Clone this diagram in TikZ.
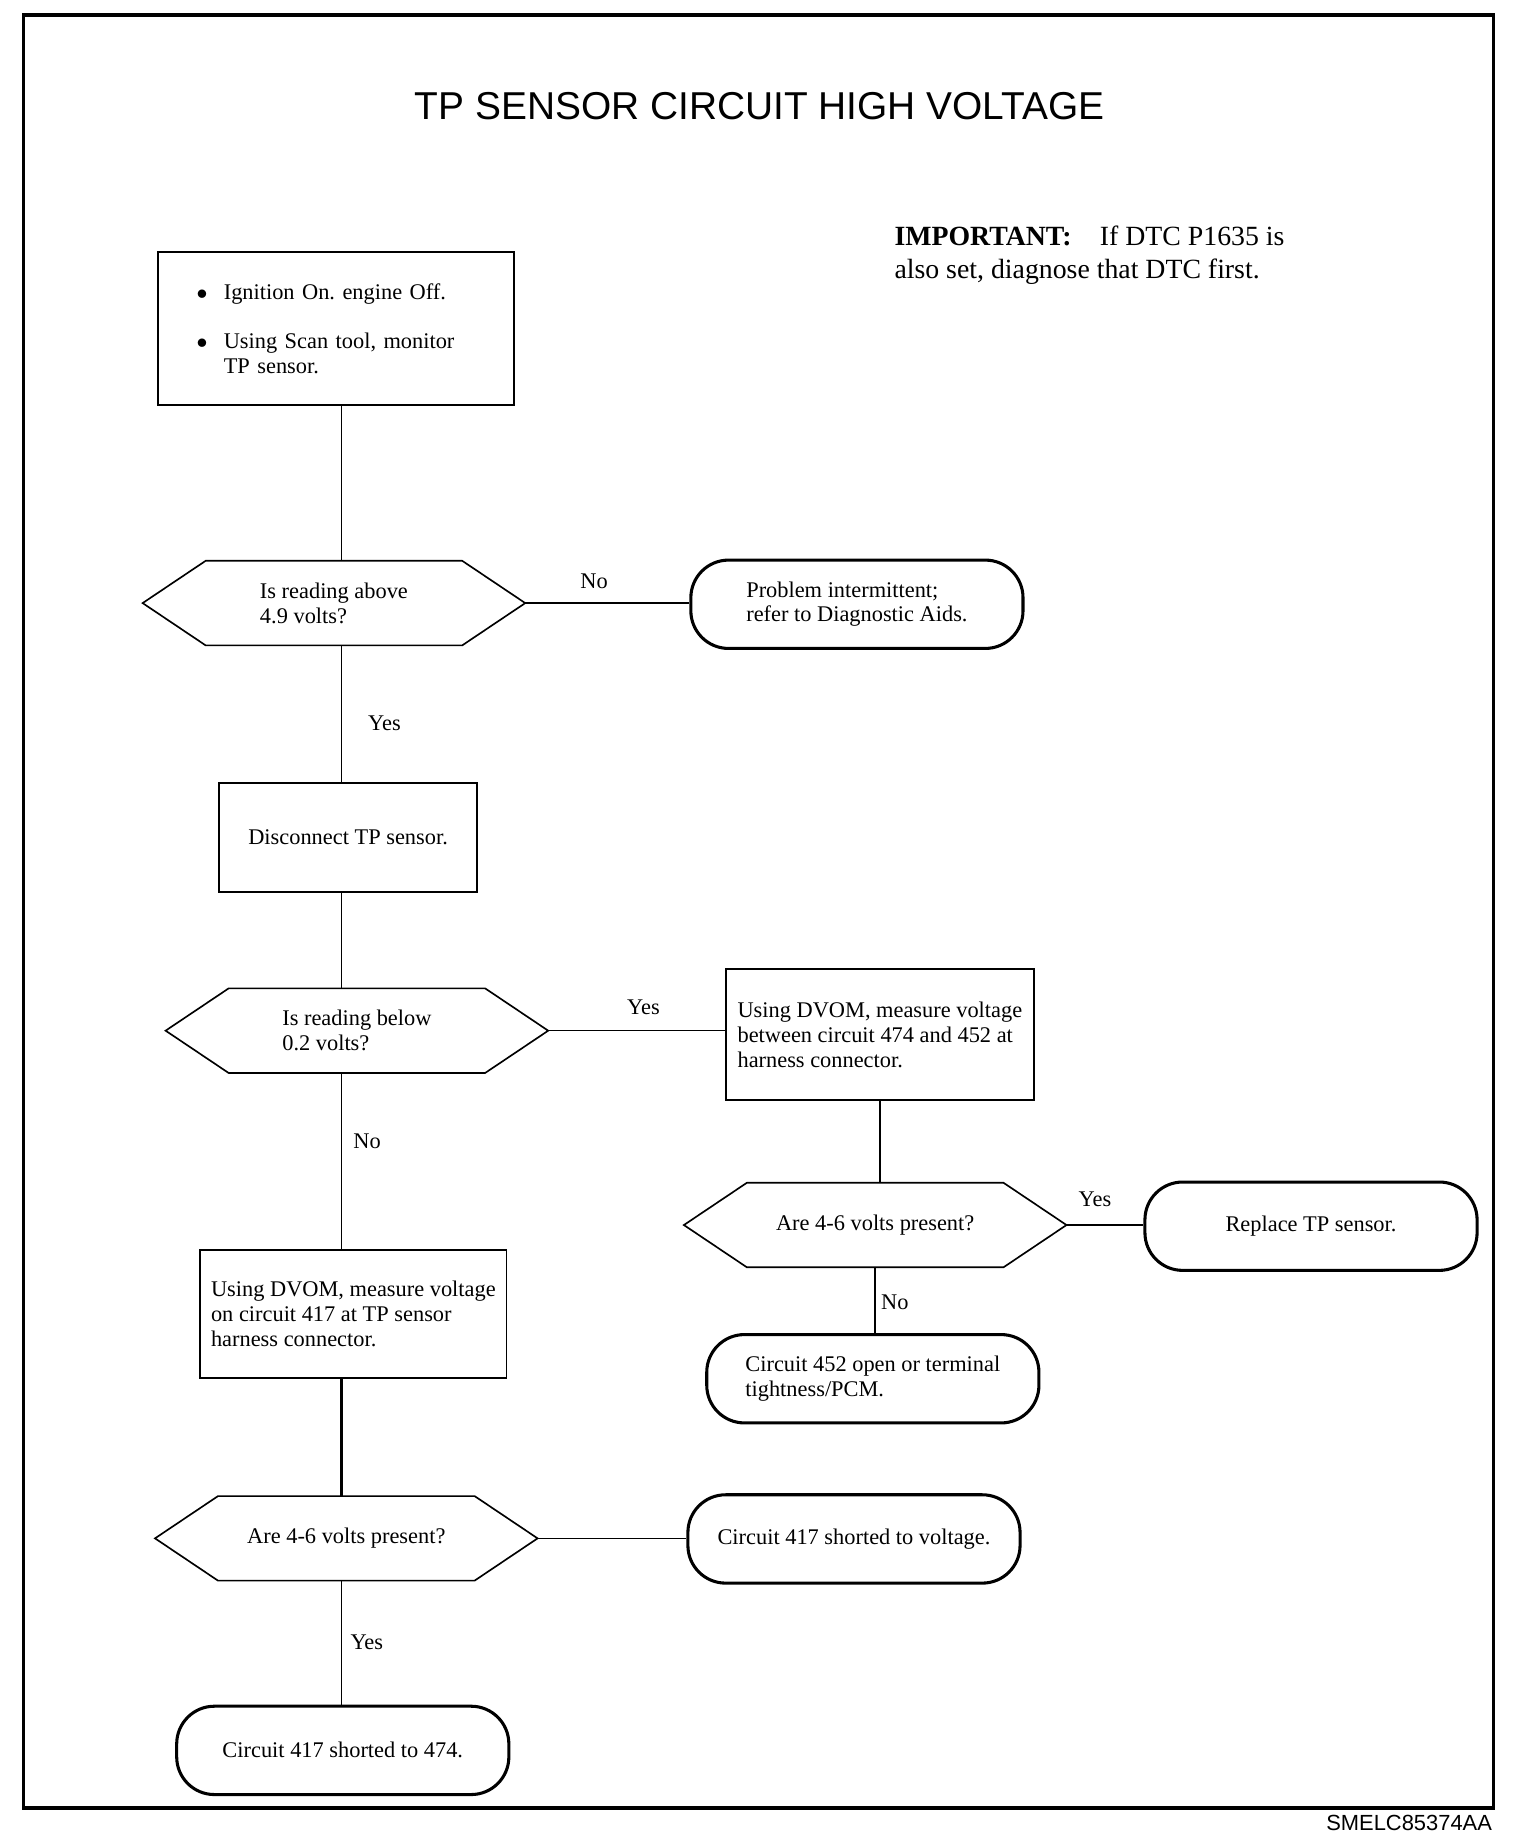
\documentclass[tikz,border=0pt]{standalone}
\usepackage{fontspec}
\setmainfont{Liberation Serif}
\newfontfamily\arialfont{Liberation Sans}
\newcommand{\bodyfont}{\fontsize{9.5}{10.5}\selectfont}
\newcommand{\hexindent}{26.75pt}
\newcommand{\bul}{\makebox[11.5pt][l]{$\bullet$}}
\tikzset{
  procbox/.style={draw, line width=0.8pt, align=left, font=\bodyfont, inner sep=2pt},
  decision/.style={draw=none, minimum width=162pt, minimum height=35.5pt, align=left, font=\bodyfont, inner sep=2pt},
  hexline/.style={line width=0.7pt, line join=miter},
  result/.style={draw, line width=1.3pt, rounded corners=16pt, minimum width=141pt, minimum height=37.5pt, align=left, font=\bodyfont, inner sep=2pt},
  conn/.style={line width=0.6pt},
  lbl/.style={font=\bodyfont, inner sep=0pt}
}
\begin{document}
\frenchspacing
\begin{tikzpicture}[x=0.5pt,y=-0.5pt]
  \useasboundingbox (0,0) rectangle (1290,1557);
  \fill[white] (0,0) rectangle (1290,1557);
  \draw[line width=1.6pt] (20,13) rectangle (1268,1535); % frame

  \node[font=\arialfont\fontsize{16.5}{20}\selectfont] (title) at (645,90) {TP SENSOR CIRCUIT HIGH VOLTAGE};
  \node[anchor=west, align=left, inner sep=0pt, font=\fontsize{11.8}{14}\selectfont] (note) at (759,217)
    {\textbf{IMPORTANT:}\hspace{12pt}If DTC P1635 is\\also set, diagnose that DTC first.};

  % left column
  \node[procbox, minimum height=65pt, text width=118pt, inner xsep=16.5pt] (start) at (285,279)
    {\bul Ignition On. engine Off.\\[10.5pt]
     \bul Using Scan tool, monitor\\
     \hspace*{11.5pt}TP sensor.};
  \node[decision] (ask1) at (283.5,512) {Is reading above\\4.9 volts?};
  \node[result] (intermit) at (727.5,513) {Problem intermittent;\\refer to Diagnostic Aids.};
  \node[procbox, minimum width=109.5pt, minimum height=46pt] (disconnect) at (295.5,711) {Disconnect TP sensor.};
  \node[decision] (ask2) at (303,875) {Is reading below\\0.2 volts?};
  \node[procbox, minimum width=130pt, minimum height=54.5pt] (measure417) at (300,1115.5)
    {Using DVOM, measure voltage\\on circuit 417 at TP sensor\\harness connector.};
  \node[decision] (ask4) at (294,1306) {Are 4-6 volts present?};
  \node[result] (short417v) at (725,1306.5) {Circuit 417 shorted to voltage.};
  \node[result] (short474) at (291,1486) {Circuit 417 shorted to 474.};

  % right column
  \node[procbox, minimum width=131pt, minimum height=55.5pt] (measure474) at (747,878.5)
    {Using DVOM, measure voltage\\between circuit 474 and 452 at\\harness connector.};
  \node[decision] (ask3) at (743,1040) {Are 4-6 volts present?};
  \node[result] (replace) at (1113,1041) {Replace TP sensor.};
  \node[result] (open452) at (741,1170.5) {Circuit 452 open or terminal\\tightness/PCM.};

  \foreach \h in {ask1,ask2,ask3,ask4} % hexagons
    \draw[hexline] (\h.west) -- ([xshift=\hexindent]\h.north west) -- ([xshift=-\hexindent]\h.north east)
      -- (\h.east) -- ([xshift=-\hexindent]\h.south east) -- ([xshift=\hexindent]\h.south west) -- cycle;

  \coordinate (spine) at (290,0);
  \draw[conn] (spine |- start.south) -- (spine |- ask1.north);
  \draw[conn] (spine |- ask1.south) -- (spine |- disconnect.north) node[lbl, pos=0.57, right=11pt] {Yes};
  \draw[conn] (spine |- disconnect.south) -- (spine |- ask2.north);
  \draw[conn] (spine |- ask2.south) -- (spine |- measure417.north) node[lbl, pos=0.39, right=4.75pt] {No};
  \draw[line width=1pt] (spine |- measure417.south) -- (spine |- ask4.north);
  \draw[conn] (spine |- ask4.south) -- (spine |- short474.north) node[lbl, pos=0.5, right=3.5pt] {Yes};

  \draw[conn] (ask1.east) -- (ask1.east -| intermit.west) node[lbl, pos=0.42, above=6pt] {No};
  \draw[conn] (ask2.east) -- (ask2.east -| measure474.west) node[lbl, pos=0.54, above=6.5pt] {Yes};
  \draw[conn] (ask4.east) -- (ask4.east -| short417v.west);
  \draw[conn] (measure474.south) -- (measure474.south |- ask3.north);
  \draw[conn] (ask3.east) -- (ask3.east -| replace.west) node[lbl, pos=0.37, above=7.5pt] {Yes};
  \draw[conn] (ask3.south) -- (ask3.south |- open452.north) node[lbl, pos=0.53, right=2.25pt] {No};

  \node[anchor=east, font=\arialfont\fontsize{9.3}{11}\selectfont, inner sep=0pt] (code) at (1267,1548) {SMELC85374AA};
\end{tikzpicture}
\end{document}
